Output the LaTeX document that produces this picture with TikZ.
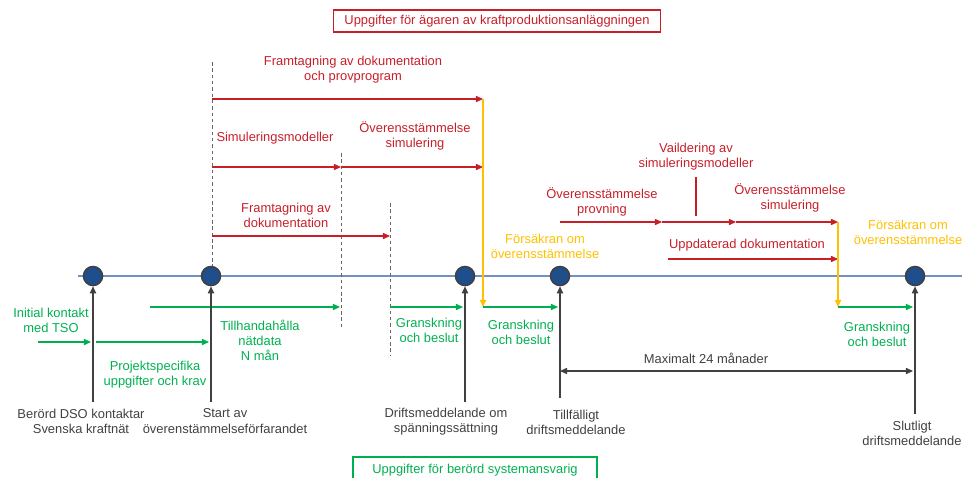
\documentclass[tikz,border=0pt]{standalone}
\usepackage{fontspec}
\setmainfont{Liberation Sans}
\usetikzlibrary{arrows.meta}
\definecolor{rd}{RGB}{200,30,40}
\definecolor{gn}{RGB}{0,176,80}
\definecolor{yl}{RGB}{255,192,0}
\definecolor{gy}{RGB}{64,64,64}
\definecolor{tl}{RGB}{112,146,192}
\definecolor{ms}{RGB}{31,78,140}

\begin{document}
\begin{tikzpicture}[x=0.02cm,y=-0.02cm,
    >={Triangle[length=4pt,width=3.5pt]},
    every node/.style={font=\fontsize{7.35}{8.6}\selectfont, align=center, inner sep=0pt},
    mile/.style = {draw=gy, fill=ms, circle, line width=0.9pt, minimum size=19*0.02cm},
    redtxt/.style = {text=rd}, greentxt/.style = {text=gn},
    yellowtxt/.style = {text=yl}, graytxt/.style = {text=gy},
    redarr/.style = {draw=rd, ->, line width=0.6pt},
    greenarr/.style = {draw=gn, ->, line width=0.6pt},
    yellowarr/.style = {draw=yl, ->, line width=0.8pt},
    grayarr/.style = {draw=gy, ->, line width=0.8pt},
    cut/.style = {draw=gy!80, dash pattern=on 2pt off 1.6pt, line width=0.5pt}]
\useasboundingbox (0,0) rectangle (962,477);

% tidslinje
\coordinate (tl0) at (78,276);
\coordinate (tl1) at (962,276);
\draw[tl, line width=1.1pt] (tl0) -- (tl1);

% streckade linjer
\coordinate (d1a) at (212,62);  \coordinate (d1b) at (212,267);
\coordinate (d2a) at (341,153); \coordinate (d2b) at (341,330);
\coordinate (d3a) at (390,203); \coordinate (d3b) at (390,355);
\draw[cut] (d1a) -- (d1b);
\draw[cut] (d2a) -- (d2b);
\draw[cut] (d3a) -- (d3b);

% milstolpar
\node[mile] (m1) at (93,276) {};
\node[mile] (m2) at (211,276) {};
\node[mile] (m3) at (465,276) {};
\node[mile] (m4) at (560,276) {};
\node[mile] (m5) at (915,276) {};

% rubriker
\node[draw=rd, text=rd, minimum width=327*0.02cm, minimum height=22*0.02cm, line width=0.8pt] (own) at (497,21) {Uppgifter för ägaren av kraftproduktionsanläggningen};
\node[draw=gn, text=gn, minimum width=244*0.02cm, minimum height=34*0.02cm, text depth=10*0.02cm, line width=0.8pt] (tso) at (475,474) {Uppgifter för berörd systemansvarig};

% ägaren, vänster del
\coordinate (r1s) at (212,99);  \coordinate (r1e) at (483,99);
\coordinate (r2s) at (212,167); \coordinate (r2m) at (341,167); \coordinate (r2e) at (483,167);
\coordinate (r3s) at (212,236); \coordinate (r3e) at (390,236);
\coordinate (y1e) at (483,307);
\draw[redarr] (r1s) -- (r1e);
\draw[redarr] (r2s) -- (r2m);
\draw[redarr] (r2m) -- (r2e);
\draw[redarr] (r3s) -- (r3e);
\draw[yellowarr] (r1e) -- (y1e);
\node[redtxt] (l1) at (353,70) {Framtagning av dokumentation\\och provprogram};
\node[redtxt] (l2) at (275,138) {Simuleringsmodeller};
\node[redtxt] (l3) at (415,136) {Överensstämmelse\\simulering};
\node[redtxt] (l4) at (286,215) {Framtagning av\\dokumentation};
\node[yellowtxt] (l5) at (545,246) {Försäkran om\\överensstämmelse};

% ägaren, höger del
\coordinate (r4s) at (560,222); \coordinate (r4a) at (662,222);
\coordinate (r4b) at (736,222); \coordinate (r4e) at (838,222);
\coordinate (v1a) at (696,177); \coordinate (v1b) at (696,216);
\coordinate (r5s) at (668,259); \coordinate (r5e) at (838,259);
\coordinate (y2e) at (838,307);
\draw[redarr] (r4s) -- (r4a);
\draw[redarr] (r4a) -- (r4b);
\draw[redarr] (r4b) -- (r4e);
\draw[rd, line width=0.6pt] (v1a) -- (v1b);
\draw[redarr] (r5s) -- (r5e);
\draw[yellowarr] (r4e) -- (y2e);
\node[redtxt] (l6) at (602,202) {Överensstämmelse\\provning};
\node[redtxt] (l7) at (696,157) {Vaildering av\\simuleringsmodeller};
\node[redtxt] (l8) at (790,198) {Överensstämmelse\\simulering};
\node[redtxt] (l9) at (747,245) {Uppdaterad dokumentation};
\node[yellowtxt] (l10) at (908,232) {Försäkran om\\överensstämmelse};

% systemansvarig
\coordinate (g1s) at (38,342);  \coordinate (g1e) at (91,342);
\coordinate (g2s) at (96,342);  \coordinate (g2e) at (209,342);
\coordinate (g3s) at (150,307); \coordinate (g3e) at (340,307);
\coordinate (g4s) at (390,307); \coordinate (g4e) at (463,307);
\coordinate (g6e) at (913,307);
\coordinate (g5e) at (558,307);
\draw[greenarr] (g1s) -- (g1e);
\draw[greenarr] (g2s) -- (g2e);
\draw[greenarr] (g3s) -- (g3e);
\draw[greenarr] (g4s) -- (g4e);
\draw[greenarr] (y1e) -- (g5e);
\draw[greenarr] (y2e) -- (g6e);
\node[greentxt] (l11) at (51,320) {Initial kontakt\\med TSO};
\node[greentxt] (l12) at (155,375) {Projektspecifika\\uppgifter och krav};
\node[greentxt] (l13) at (260,340) {Tillhandahålla\\nätdata\\N mån};
\node[greentxt] (l14) at (429,330) {Granskning\\och beslut};
\node[greentxt] (l15) at (521,332) {Granskning\\och beslut};
\node[greentxt] (l16) at (877,334) {Granskning\\och beslut};

% händelser
\coordinate (b1) at (93,402);  \coordinate (b2) at (211,402);
\coordinate (b3) at (465,402); \coordinate (b4) at (560,398);
\coordinate (b5) at (915,414);
\draw[grayarr] (b1) -- (m1);
\draw[grayarr] (b2) -- (m2);
\draw[grayarr] (b3) -- (m3);
\draw[grayarr] (b4) -- (m4);
\draw[grayarr] (b5) -- (m5);
\node[graytxt] (e1) at (81,421) {Berörd DSO kontaktar\\Svenska kraftnät};
\node[graytxt] (e2) at (225,421) {Start av\\överenstämmelseförfarandet};
\node[graytxt] (e3) at (446,422) {Driftsmeddelande om\\spänningssättning};
\node[graytxt] (e4) at (576,422) {Tillfälligt\\driftsmeddelande};
\node[graytxt] (e5) at (912,433) {Slutligt\\driftsmeddelande};

% max tid
\coordinate (t1) at (560,371); \coordinate (t2) at (913,371);
\draw[gy, <->, line width=0.6pt] (t1) -- (t2);
\node[graytxt] (l17) at (706,358) {Maximalt 24 månader};
\end{tikzpicture}
\end{document}
